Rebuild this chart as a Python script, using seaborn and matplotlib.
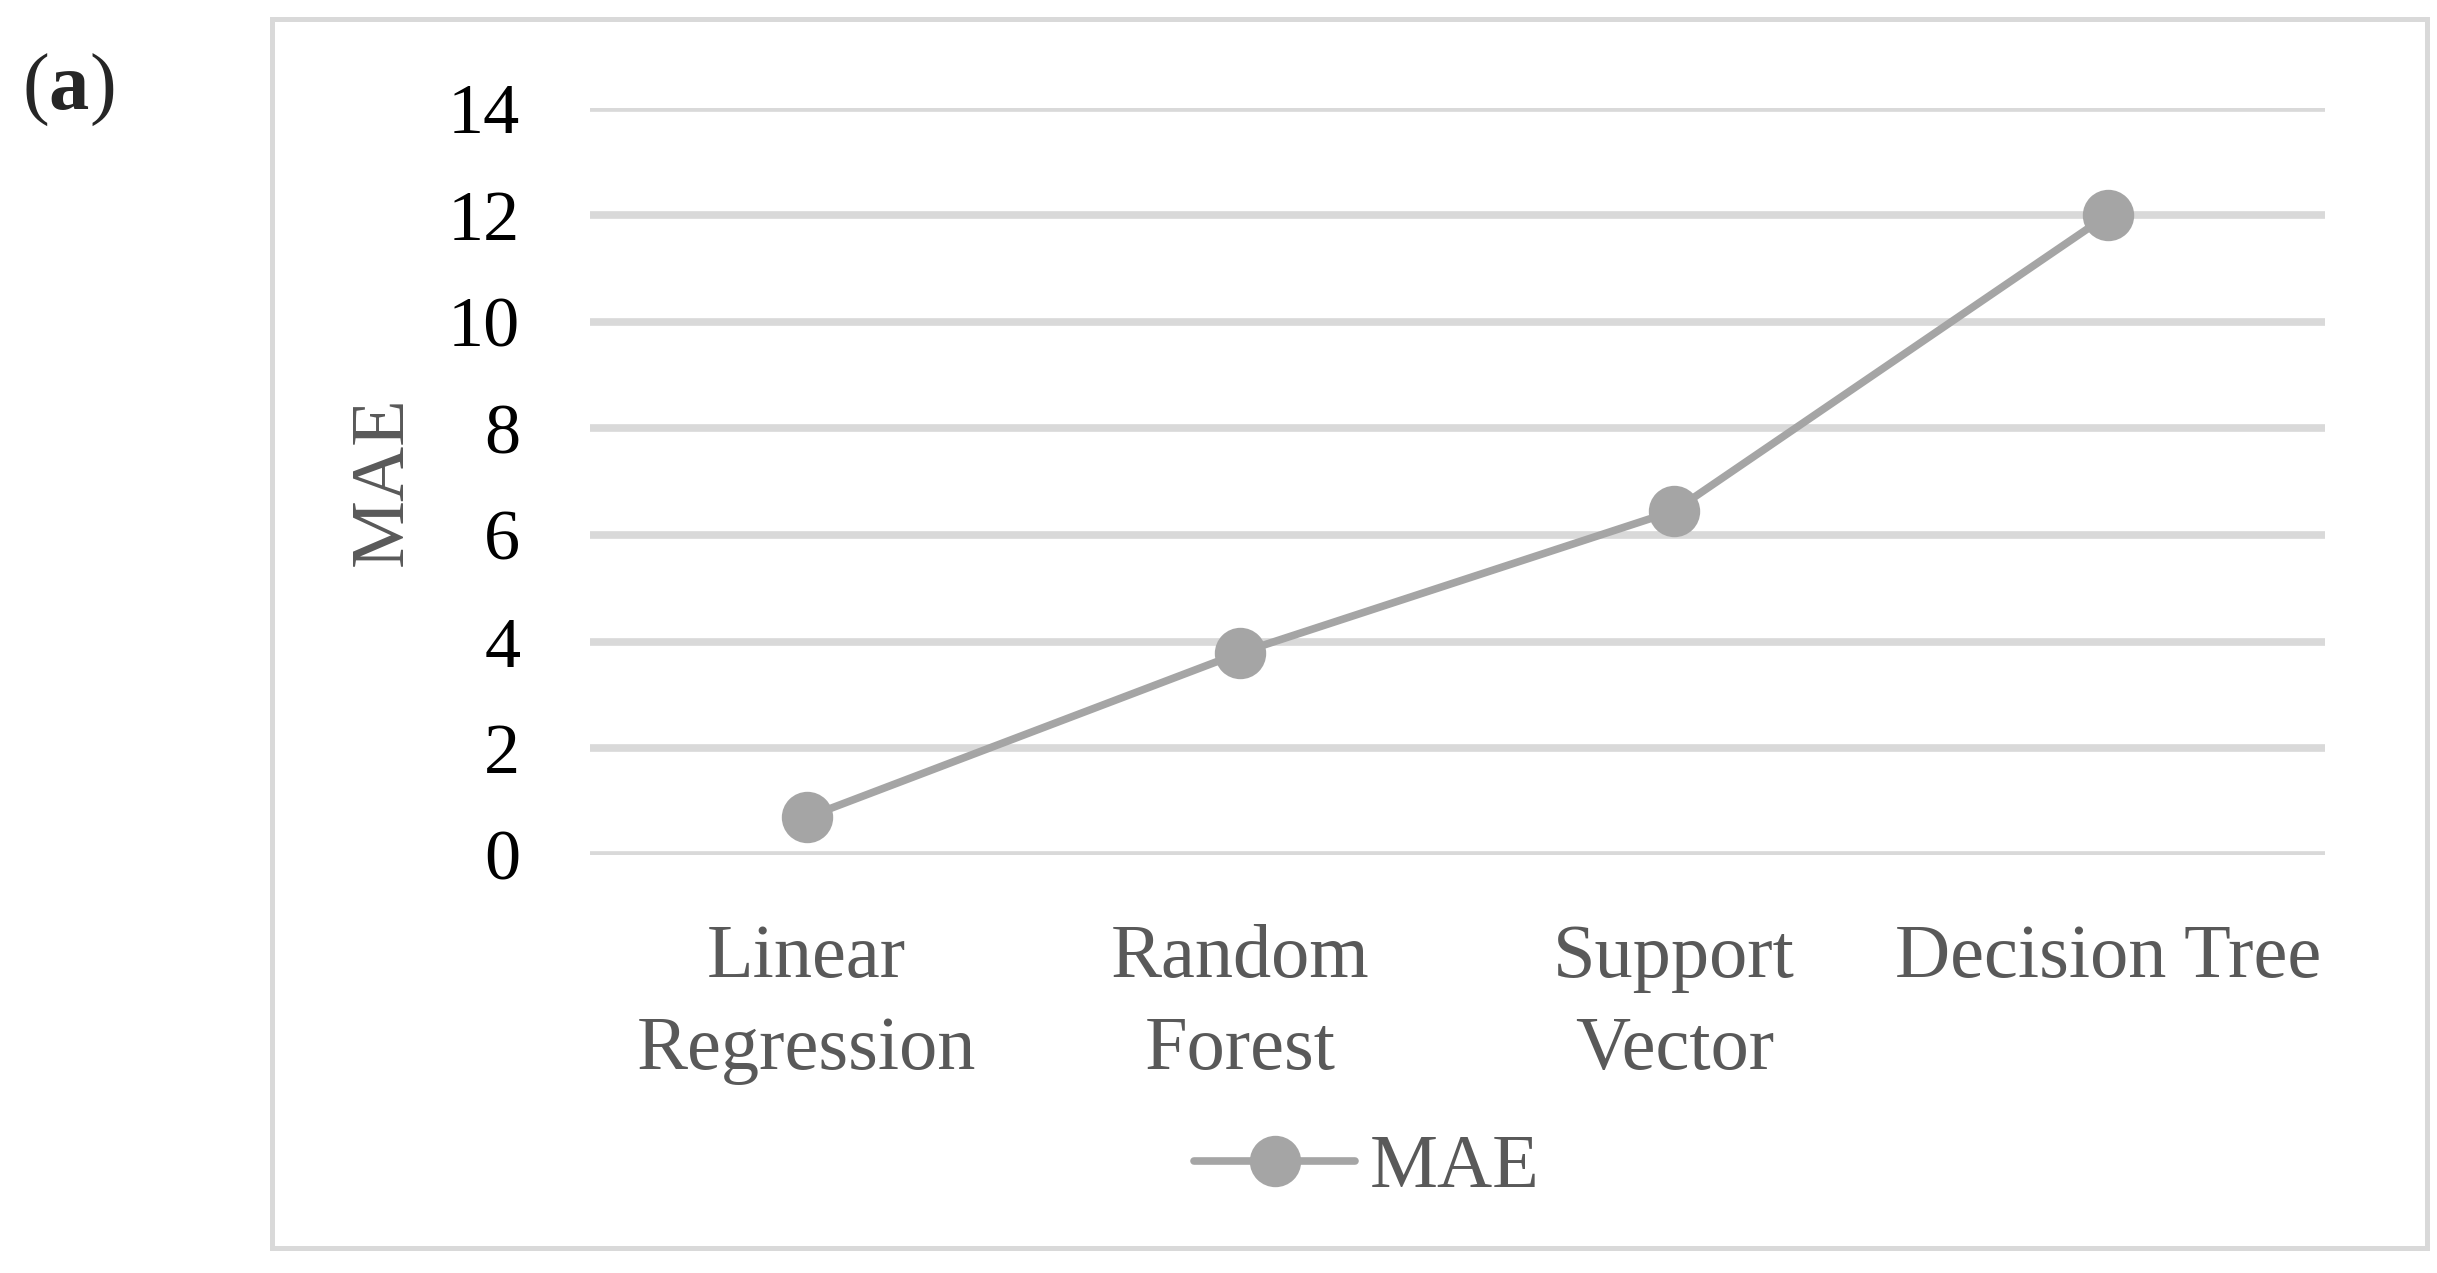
import matplotlib
matplotlib.use("Agg")
import matplotlib.pyplot as plt
import matplotlib.patches as mpatches
import seaborn as sns
import pandas as pd

# values
models = ["Linear\nRegression", "Random\nForest", "Support\nVector", "Decision Tree"]
mae = [0.70, 3.79, 6.45, 12.0]
y_ticks = [0, 2, 4, 6, 8, 10, 12, 14]

df = pd.DataFrame({"model": models, "MAE": mae})

sns.set_style("white")
plt.rcParams['font.family'] = ['Liberation Serif', 'DejaVu Serif']
plt.rcParams['mathtext.fontset'] = 'custom'
plt.rcParams['mathtext.rm'] = 'Liberation Serif'
plt.rcParams['mathtext.bf'] = 'Liberation Serif:bold'

fig = plt.figure(figsize=(24.37, 12.73), dpi=100)
ax = fig.add_axes([0.242, 0.3285, 0.712, 0.5865])

grey = "#a5a5a5"
txt = "#595959"

sns.lineplot(data=df, x="model", y="MAE", ax=ax, color=grey, linewidth=5.5,
             marker="o", markersize=37, markeredgewidth=0, sort=False, label="MAE")

ax.set_xlim(-0.5, 3.5)
ax.set_ylim(0, 14)
ax.set_yticks(y_ticks)
ax.yaxis.grid(True, color="#d9d9d9", linewidth=5.5)
ax.xaxis.grid(False)
for s in ax.spines.values():
    s.set_visible(False)
ax.tick_params(axis="y", length=0, pad=50, labelsize=52, labelcolor="black")
ax.tick_params(axis="x", length=0, pad=50, labelsize=55, labelcolor=txt)
for lab in ax.get_xticklabels():
    lab.set_linespacing(1.42)
ax.set_xlabel("")
ax.set_ylabel("MAE", fontsize=55, color=txt, labelpad=22)

ax.get_legend().remove()
h, l = ax.get_legend_handles_labels()
fig.legend(h, l, loc="center", bbox_to_anchor=(0.561, 0.082), frameon=False,
           fontsize=55, handlelength=2.1, handletextpad=0.2, labelcolor=txt)

# outer chart-area border
border = mpatches.Rectangle((272 / 2437, 1 - 1248 / 1273), (2427 - 272) / 2437, (1248 - 19) / 1273,
                            transform=fig.transFigure, fill=False, edgecolor="#d9d9d9", linewidth=3.6)
fig.patches.append(border)

# panel label
fig.text(0.009, 1 - 58 / 819, r"$\mathrm{(}\mathbf{a}\mathrm{)}$", fontsize=58, va="center", ha="left")

fig.savefig("out.png", dpi=100)
